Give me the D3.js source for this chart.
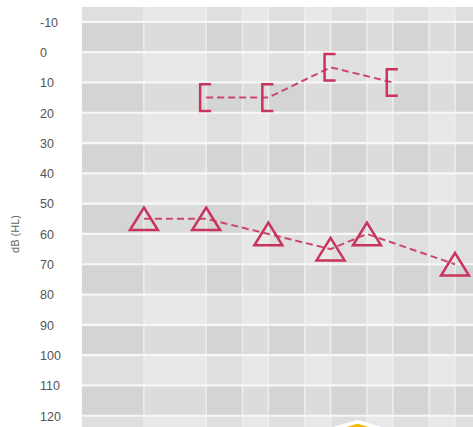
<!DOCTYPE html>
<html>
<head>
<meta charset="utf-8">
<script src="https://cdn.jsdelivr.net/npm/d3@7"></script>
<style>
  html, body { margin: 0; padding: 0; background: #ffffff; }
  svg { display: block; }
</style>
</head>
<body>
<script>
// ---- data ----
const yTicks = [-10, 0, 10, 20, 30, 40, 50, 60, 70, 80, 90, 100, 110, 120];
const gridFreqs = [250, 500, 750, 1000, 1500, 2000, 3000, 4000, 6000, 8000];
const columnEdges = [125, 250, 500, 750, 1000, 1500, 2000, 3000, 4000, 6000, 8000, 16000];
const airFreqs = [250, 500, 1000, 2000, 3000, 8000];
const airValues = [55, 55, 60, 65, 60, 70];
const boneFreqs = [500, 1000, 2000, 4000];
const boneValues = [15, 15, 5, 10];
const cursorFreq = 2700;
const cursorDb = 122.5;
const yLabel = "dB (HL)";

// ---- layout ----
const W = 473, H = 427;
const svg = d3.select("body").append("svg").attr("width", W).attr("height", H);

const x = d3.scaleLog().domain([125, 8000]).range([81.7, 455]);
const y = d3.scaleLinear().domain([-15, 125]).range([6.7, 430.9]);
const plotRight = W;
const plotBottom = H;

const clipId = "plotclip";
svg.append("defs").append("clipPath").attr("id", clipId)
  .append("rect").attr("x", x(125)).attr("y", y(-15))
  .attr("width", plotRight - x(125)).attr("height", plotBottom - y(-15));
const pg = svg.append("g").attr("clip-path", `url(#${clipId})`);

// background cells: row bands x column bands
const rowEdges = [-15].concat(yTicks, [130]);
const colors = {
  LL: "#e8e8e8", // light row, light col
  LD: "#dfdfdf", // light row, dark col
  DL: "#dcdcdc", // dark row, light col
  DD: "#d4d4d4"  // dark row, dark col
};
for (let r = 0; r < rowEdges.length - 1; r++) {
  const darkRow = (r % 2 === 1);
  for (let c = 0; c < columnEdges.length - 1; c++) {
    const darkCol = (c % 2 === 0);
    const key = (darkRow ? "D" : "L") + (darkCol ? "D" : "L");
    const x0 = x(columnEdges[c]), x1 = Math.min(x(columnEdges[c + 1]), plotRight);
    pg.append("rect")
      .attr("x", x0).attr("y", y(rowEdges[r]))
      .attr("width", Math.max(0, x1 - x0))
      .attr("height", y(rowEdges[r + 1]) - y(rowEdges[r]))
      .attr("fill", colors[key]);
  }
}

// vertical grid lines
pg.selectAll("line.v").data(gridFreqs).enter().append("line")
  .attr("x1", d => x(d)).attr("x2", d => x(d))
  .attr("y1", y(-15)).attr("y2", plotBottom)
  .attr("stroke", "#eeeeee").attr("stroke-width", 1.5);

// horizontal grid lines
pg.selectAll("line.h").data(yTicks).enter().append("line")
  .attr("x1", x(125)).attr("x2", plotRight)
  .attr("y1", d => y(d)).attr("y2", d => y(d))
  .attr("stroke", "#f7f7f7").attr("stroke-width", 2.2);

// y tick labels
svg.selectAll("text.tick").data(yTicks).enter().append("text")
  .attr("x", 40).attr("y", d => y(d) + 1.5)
  .attr("dominant-baseline", "middle")
  .attr("font-family", "Arial, 'Liberation Sans', sans-serif")
  .attr("font-size", 12.5)
  .attr("fill", "#555555")
  .text(d => d);

// y axis title
svg.append("text")
  .attr("transform", `translate(19,${y(60)}) rotate(-90)`)
  .attr("text-anchor", "middle")
  .attr("font-family", "Arial, 'Liberation Sans', sans-serif")
  .attr("font-size", 11)
  .attr("fill", "#666666")
  .text(yLabel);

const markColor = "#c8345b";
const lineColor = "#c9486c";

const airData = airFreqs.map((f, i) => ({ f, v: airValues[i] }));
const boneData = boneFreqs.map((f, i) => ({ f, v: boneValues[i] }));

const lineGen = d3.line().x(d => x(d.f)).y(d => y(d.v));

pg.append("path").datum(airData)
  .attr("d", lineGen).attr("fill", "none")
  .attr("stroke", lineColor).attr("stroke-width", 2)
  .attr("stroke-dasharray", "7,4");

pg.append("path").datum(boneData)
  .attr("d", lineGen).attr("fill", "none")
  .attr("stroke", lineColor).attr("stroke-width", 2)
  .attr("stroke-dasharray", "7,4");

pg.selectAll("path.tri").data(airData).enter().append("path")
  .attr("d", d => {
    const cx = x(d.f), cy = y(d.v);
    return `M${cx},${cy - 11.3} L${cx + 14},${cy + 11.3} L${cx - 14},${cy + 11.3} Z`;
  })
  .attr("fill", "none").attr("stroke", markColor)
  .attr("stroke-width", 2.5).attr("stroke-linejoin", "miter");

pg.selectAll("path.brk").data(boneData).enter().append("path")
  .attr("d", d => {
    const cx = x(d.f), cy = y(d.v);
    return `M${cx + 5},${cy - 13.3} L${cx - 6},${cy - 13.3} L${cx - 6},${cy + 13.3} L${cx + 5},${cy + 13.3}`;
  })
  .attr("fill", "none").attr("stroke", markColor)
  .attr("stroke-width", 2.5);

// yellow cursor marker at the bottom
const cx0 = x(cursorFreq), cy0 = y(cursorDb);
pg.append("path")
  .attr("d", `M${cx0},${cy0 - 3.5} L${cx0 + 80},${cy0 + 20} L${cx0 - 80},${cy0 + 20} Z`)
  .attr("fill", "#ffffff");
pg.append("path")
  .attr("d", `M${cx0},${cy0 + 0.5} L${cx0 + 70},${cy0 + 20} L${cx0 - 70},${cy0 + 20} Z`)
  .attr("fill", "#f6b800");
</script>
</body>
</html>
